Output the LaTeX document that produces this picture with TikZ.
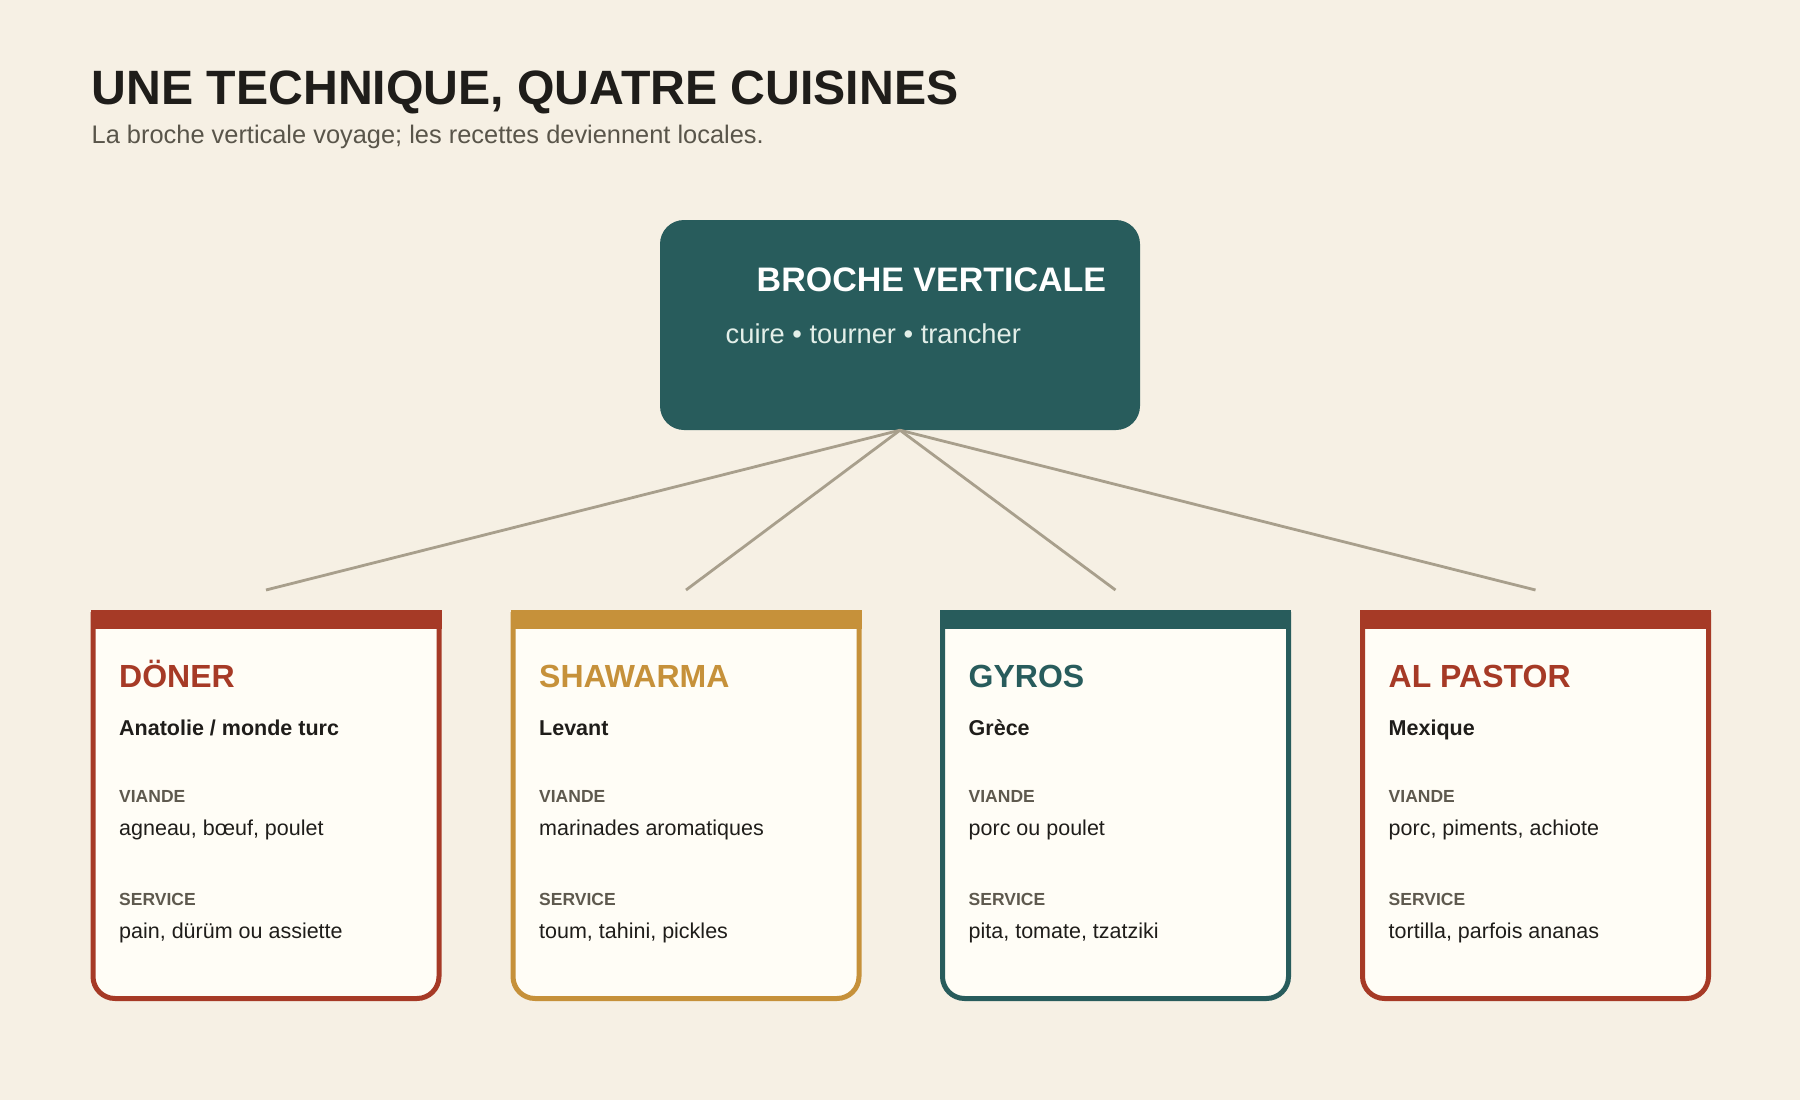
\documentclass[tikz,border=0pt]{standalone}
\usepackage{fontspec}
\setmainfont{Liberation Sans}
\usetikzlibrary{positioning}
\definecolor{fond}{HTML}{F6F0E4}
\definecolor{carte}{HTML}{FFFDF6}
\definecolor{rouge}{HTML}{A63A26}
\definecolor{ocre}{HTML}{C6913A}
\definecolor{sarcelle}{HTML}{285C5C}
\definecolor{trait}{HTML}{A89F8C}
\definecolor{encre}{HTML}{1F1D1A}
\definecolor{gris}{HTML}{5E594E}
\definecolor{menthe}{HTML}{E3EFE9}
\newcommand{\taille}[1]{\fontsize{#1}{#1}\selectfont}

\begin{document}
\begin{tikzpicture}[x=1pt,y=-1pt,
    texte/.style={anchor=base west,inner sep=0pt,text=encre},
    lien/.style={draw=trait,line width=2.8},
    hub/.style={fill=sarcelle,rounded corners=24,minimum width=480,minimum height=210,inner sep=0pt}]
                \useasboundingbox (0,0) rectangle (1800,1100);
                \fill[fond] (0,0) rectangle (1800,1100);

                \node[texte] (titre) at (91.5,104) {\taille{48.2}\bfseries UNE TECHNIQUE, QUATRE CUISINES};
                \node[texte,text=gris!95!black] (soustitre) at (91.5,143) {\taille{25.4}La broche verticale voyage; les recettes deviennent locales.};

                \node[hub] (broche) at (900,325) {};
                \node[texte,text=white] (brochetitre) at (756.5,291) {\taille{34}\bfseries BROCHE VERTICALE};
                \node[texte,text=menthe] (brochegestes) at (725.5,343) {\taille{27.3}cuire • tourner • trancher};

                % les quatre cartes
                \foreach \gx/\col/\nom/\region/\viande/\service [count=\i] in {
                    90.5/rouge/DÖNER/{Anatolie / monde turc}/{agneau, bœuf, poulet}/{pain, dürüm ou assiette},
                    510.5/ocre/SHAWARMA/Levant/{marinades aromatiques}/{toum, tahini, pickles},
                    940/sarcelle/GYROS/Grèce/{porc ou poulet}/{pita, tomate, tzatziki},
                    1360/rouge/AL PASTOR/Mexique/{porc, piments, achiote}/{tortilla, parfois ananas}} {
                    \filldraw[fill=carte,draw=\col,line width=5,rounded corners=22] (\gx+2.5,612) -- (\gx+2.5,998.5) -- (\gx+348.5,998.5) -- (\gx+348.5,612);
                    \fill[\col] (\gx,610) rectangle (\gx+351,629);
                    \coordinate (haut\i) at (\gx+175.5,590);
                    \node[texte,text=\col] (nom\i) at (\gx+28.5,687) {\taille{32}\bfseries \nom};
                    \node[texte] (region\i) at (\gx+28.5,735) {\taille{21.5}\bfseries \region};
                    \node[texte,text=gris] (lviande\i) at (\gx+28.5,802) {\taille{17.5}\bfseries VIANDE};
                    \node[texte] (viande\i) at (\gx+28.5,835) {\taille{21.5}\viande};
                    \node[texte,text=gris] (lservice\i) at (\gx+28.5,905) {\taille{17.5}\bfseries SERVICE};
                    \node[texte] (service\i) at (\gx+28.5,938) {\taille{21.5}\service};
                }

                \foreach \i in {1,...,4} {
                    \draw[lien] (broche.south) -- (haut\i);
                }
\end{tikzpicture}
\end{document}
